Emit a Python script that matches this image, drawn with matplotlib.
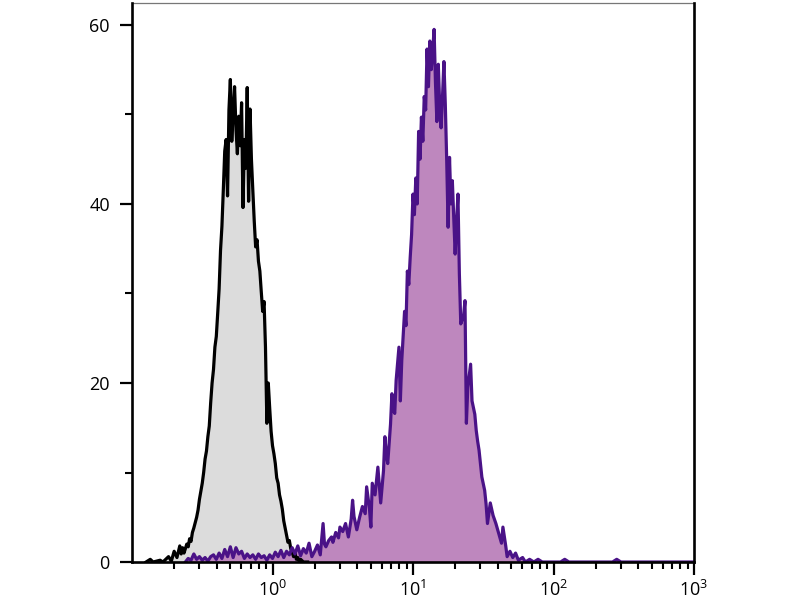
import numpy as np
import matplotlib
matplotlib.use("Agg")
import matplotlib.pyplot as plt
from matplotlib.ticker import LogLocator, LogFormatterMathtext, MultipleLocator, NullFormatter

plt.rcParams['font.family'] = ['Open Sans', 'DejaVu Sans']
plt.rcParams['mathtext.fontset'] = 'custom'
plt.rcParams['mathtext.rm'] = 'Open Sans'
plt.rcParams['mathtext.it'] = 'Open Sans'
plt.rcParams['mathtext.bf'] = 'Open Sans'

# Control (isotype) histogram: log10 channel position and event counts
grey_log_x = [-0.90, -0.87, -0.85, -0.80, -0.78, -0.74, -0.72, -0.70, -0.68, -0.66, -0.65, -0.64,
              -0.63, -0.62, -0.61, -0.60, -0.59, -0.58, -0.57, -0.56, -0.55, -0.54, -0.53, -0.52,
              -0.51, -0.50, -0.49, -0.48, -0.47, -0.46, -0.45, -0.44, -0.43, -0.42, -0.41, -0.40,
              -0.39, -0.38, -0.37, -0.36, -0.35, -0.34, -0.33, -0.32, -0.31, -0.30, -0.29, -0.28,
              -0.27, -0.26, -0.25, -0.24, -0.23, -0.22, -0.21, -0.20, -0.19, -0.18, -0.17, -0.16,
              -0.15, -0.14, -0.13, -0.12, -0.11, -0.10, -0.09, -0.08, -0.07, -0.06, -0.05, -0.04,
              -0.03, -0.02, -0.01, 0.00, 0.01, 0.02, 0.03, 0.04, 0.05, 0.06, 0.07, 0.08, 0.09,
              0.10, 0.11, 0.12, 0.13, 0.14, 0.15, 0.16, 0.17, 0.18, 0.19, 0.20, 0.22, 0.25]
grey_counts = [0, 0.3, 0, 0.2, 0, 0.6, 0.1, 1.2, 0.5, 1.8, 0.9, 1.6,
               1.0, 1.5, 2.0, 1.7, 2.6, 2.3, 3.3, 3.8, 4.4, 5.0, 5.8, 7.0,
               7.9, 8.8, 10.0, 11.5, 12.4, 14.0, 15.2, 17.8, 20.0, 21.5, 24.0, 25.2,
               27.8, 30.5, 34.8, 37.5, 41.6, 45.9, 47.2, 40.9, 50.5, 53.9, 47.0, 50.2,
               53.1, 48.4, 45.6, 49.8, 46.5, 51.3, 39.6, 47.2, 44.0, 53.0, 40.3, 50.6,
               45.0, 41.5, 38.1, 35.2, 36.0, 33.6, 32.5, 30.2, 28.0, 29.1, 24.0, 15.5,
               20.0, 17.2, 14.6, 13.0, 12.1, 11.0, 9.4, 8.8, 7.5, 6.8, 5.9, 4.6, 3.8,
               3.0, 2.2, 2.4, 1.5, 1.1, 0.6, 1.0, 0.3, 0.5, 0.1, 0.3, 0, 0]

# Stained sample histogram
purple_log_x = [-0.62, -0.60, -0.58, -0.56, -0.54, -0.52, -0.50, -0.48, -0.46, -0.44, -0.42, -0.40,
                -0.38, -0.36, -0.34, -0.32, -0.30, -0.28, -0.26, -0.24, -0.22, -0.20, -0.18, -0.16,
                -0.14, -0.12, -0.10, -0.08, -0.06, -0.04, -0.02, 0.00, 0.02, 0.04, 0.06, 0.08,
                0.10, 0.12, 0.14, 0.16, 0.18, 0.20, 0.22, 0.24, 0.26, 0.28, 0.30, 0.32, 0.34,
                0.36, 0.37, 0.38, 0.40, 0.42, 0.43, 0.45, 0.47, 0.48, 0.50, 0.52, 0.54, 0.56,
                0.57, 0.58, 0.60, 0.62, 0.64, 0.66, 0.67, 0.69, 0.70, 0.71, 0.73, 0.75, 0.77,
                0.79, 0.80, 0.81, 0.82, 0.84, 0.85, 0.86, 0.87, 0.88, 0.90, 0.91, 0.92, 0.94,
                0.95, 0.96, 0.97, 0.98, 0.99, 1.00, 1.01, 1.02, 1.03, 1.04, 1.05, 1.06, 1.07,
                1.08, 1.09, 1.10, 1.11, 1.12, 1.13, 1.14, 1.15, 1.16, 1.17, 1.18, 1.19, 1.20,
                1.21, 1.22, 1.23, 1.24, 1.25, 1.26, 1.27, 1.28, 1.30, 1.31, 1.32, 1.33, 1.34,
                1.36, 1.37, 1.38, 1.39, 1.41, 1.42, 1.44, 1.45, 1.46, 1.47, 1.49, 1.51, 1.52,
                1.53, 1.55, 1.57, 1.59, 1.61, 1.63, 1.64, 1.66, 1.67, 1.69, 1.71, 1.73, 1.75,
                1.78, 1.80, 1.83, 1.86, 1.89, 1.92, 2.05, 2.08, 2.11, 2.42, 2.45, 2.48, 2.99]
purple_counts = [0, 0.4, 0.2, 0.9, 0.3, 0.6, 0.2, 0.5, 0.1, 0.6, 0.8, 0.3,
                 1.0, 0.4, 1.4, 0.6, 1.7, 0.5, 1.6, 0.9, 1.2, 0.4, 0.9, 0.5,
                 0.8, 0.3, 0.9, 0.5, 0.7, 0.2, 0.8, 0.4, 1.1, 0.6, 1.3, 0.5,
                 1.2, 0.8, 1.6, 0.9, 1.8, 0.7, 1.5, 1.0, 2.1, 0.6, 1.2, 1.9, 0.8,
                 4.3, 2.0, 1.7, 2.4, 2.8, 2.2, 3.3, 2.7, 3.9, 3.4, 4.3, 2.8, 4.8,
                 6.9, 5.1, 3.6, 5.0, 6.2, 5.4, 8.4, 6.0, 3.9, 8.8, 7.5, 10.6, 6.6,
                 10.2, 14.0, 12.0, 11.0, 15.4, 18.8, 17.0, 16.6, 20.3, 24.0, 18.0, 22.5, 28.0,
                 26.4, 32.5, 31.0, 34.0, 36.6, 41.1, 38.8, 42.9, 40.0, 48.1, 45.0, 49.7, 47.0,
                 52.0, 50.5, 57.3, 53.1, 58.2, 55.0, 57.0, 59.5, 53.5, 49.2, 55.6, 51.0, 48.5,
                 52.0, 55.9, 51.1, 44.8, 37.4, 45.2, 40.0, 42.6, 34.4, 38.0, 41.1, 32.2, 26.6,
                 27.5, 29.2, 15.5, 19.5, 22.1, 18.0, 16.5, 14.7, 13.5, 12.5, 9.5, 8.0, 6.5,
                 4.3, 6.6, 5.2, 4.3, 3.2, 2.1, 3.9, 1.8, 0.6, 1.2, 0.5, 1.0, 0.2,
                 0.5, 0, 0.3, 0, 0.3, 0, 0, 0.3, 0, 0, 0.3, 0, 0]

y_ticks = [0, 20, 40, 60]

fig = plt.figure(figsize=(8, 6), dpi=100)
ax = fig.add_axes([0.165, 0.0633, 0.7025, 0.9325])

gx = 10 ** np.array(grey_log_x)
px = 10 ** np.array(purple_log_x)

ax.fill_between(gx, 0, grey_counts, color='#dcdcdc', lw=0, zorder=1)
ax.fill_between(px, 0, purple_counts, color='#be87be', lw=0, zorder=2)
ax.plot(gx, grey_counts, color='black', lw=2.3, zorder=3)
ax.plot(px, purple_counts, color='#4a1287', lw=2.3, zorder=4)

ax.set_xscale('log')
ax.set_xlim(0.1, 1000)
ax.set_ylim(0, 62.5)

ax.xaxis.set_major_locator(LogLocator(base=10, numticks=10))
ax.xaxis.set_minor_locator(LogLocator(base=10, subs=np.arange(2, 10), numticks=20))
ax.xaxis.set_major_formatter(LogFormatterMathtext())
ax.xaxis.set_minor_formatter(NullFormatter())
ax.set_xticks([1, 10, 100, 1000])

ax.set_yticks(y_ticks)
ax.yaxis.set_minor_locator(MultipleLocator(10))

ax.tick_params(axis='both', which='major', direction='out', length=9, width=1.6,
               labelsize=13, colors='black')
ax.tick_params(axis='y', which='major', pad=7)
ax.tick_params(axis='x', which='major', pad=4)
ax.tick_params(axis='both', which='minor', direction='out', length=5, width=1.5)

for side in ['left', 'bottom', 'right']:
    ax.spines[side].set_linewidth(1.9)
    ax.spines[side].set_color('black')
    ax.spines[side].set_zorder(6)
ax.spines['top'].set_linewidth(0.9)
ax.spines['top'].set_color('#777777')

fig.savefig('out.png', dpi=100)
